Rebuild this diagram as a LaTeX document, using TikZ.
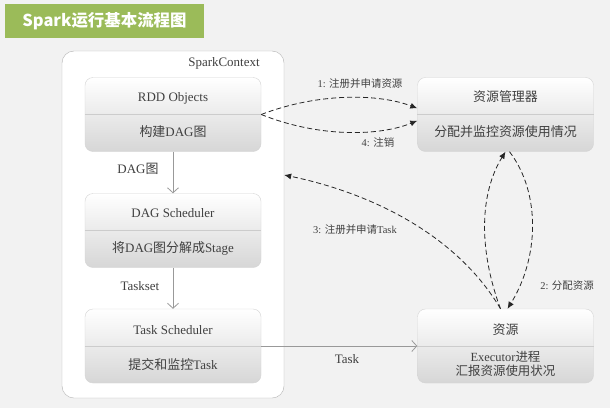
\documentclass[tikz,border=0pt]{standalone}
\usepackage{fontspec}
\setmainfont{Liberation Serif}
\newfontfamily\zhfont{Noto Sans CJK SC}
\newcommand\zh[1]{{\zhfont #1}}
\usetikzlibrary{arrows.meta}
\definecolor{bg}{HTML}{F2F2F2}
\definecolor{olive}{HTML}{9BBB59}
\definecolor{ink}{HTML}{404040}
\definecolor{edge}{HTML}{D4D4D4}
\tikzset{
  box/.style={draw=edge,rounded corners=8bp,minimum width=176bp,minimum height=74bp,top color=white,bottom color=black!16,inner sep=0pt},
  txt/.style={text=ink,font=\fontsize{13}{15}\selectfont,inner sep=1bp},
  lbl/.style={text=ink,font=\fontsize{10.5}{12}\selectfont,inner sep=1bp},
  flow/.style={draw=black!40,line width=0.8bp,-{Straight Barb[length=5bp,width=11bp]}},
  msg/.style={draw=black!85,dash pattern=on 5bp off 3bp,line width=0.8bp,-{Latex[length=7bp,width=6bp]}},
}
\begin{document}
\begin{tikzpicture}[>=latex,line join=bevel,x=1bp,y=1bp]
    \path[use as bounding box,fill=bg] (0,0) rectangle (610,408);
    %%
    \node (title) at (104.5,387) [fill=olive,minimum width=199bp,minimum height=34bp,text=white,font=\zhfont\bfseries\fontsize{16.5}{18}\selectfont] {Spark运行基本流程图};
    \node (sc) at (173,183.5) [draw=black!30,fill=white,rounded corners=12bp,minimum width=222bp,minimum height=347bp] {};
    \node (scname) at (224,345) [txt] {SparkContext};
    %
    \node (rdd) at (173,293.5) [box] {};
    \node (dag) at (173,177.5) [box] {};
    \node (task) at (173,62) [box] {};
    \node (rm) at (505.5,293.5) [box] {};
    \node (res) at (505.5,62) [box] {};
    \foreach \b in {rdd,dag,task,rm,res}
      \draw [black!20] (\b.west) -- (\b.east);
    %
    \node (rddA) at (173,310) [txt] {RDD Objects};
    \node (rddB) at (173,276) [txt] {\zh{构建}DAG\zh{图}};
    \node (dagA) at (173,195) [txt] {DAG Scheduler};
    \node (dagB) at (173,160) [txt] {\zh{将}DAG\zh{图分解成}Stage};
    \node (taskA) at (173,78) [txt] {Task Scheduler};
    \node (taskB) at (173,43) [txt] {\zh{提交和监控}Task};
    \node (rmA) at (505.5,311) [txt] {\zh{资源管理器}};
    \node (rmB) at (505.5,276) [txt] {\zh{分配并监控资源使用情况}};
    \node (resA) at (505.5,78) [txt] {\zh{资源}};
    \node (resB) at (505.5,44) [txt,align=center,font=\fontsize{12.5}{14.5}\selectfont] {Executor\zh{进程}\\\zh{汇报资源使用状况}};
    %
    \draw [flow] (rdd) -- (dag);
    \draw [flow] (dag) -- (task);
    \draw [flow] (task) -- (res);
    \node (fl1) at (138,239) [txt] {DAG\zh{图}};
    \node (fl2) at (140,122) [txt] {Taskset};
    \node (fl3) at (347,49) [txt] {Task};
    %
    \draw [msg] (rdd.east) ..controls (320,316) and (380,314) .. (rm.176);
    \draw [msg] (rdd.east) ..controls (320,270) and (380,272) .. (rm.184);
    \draw [msg] ([xshift=-5bp]res.north) ..controls (478,160) and (480,215) .. (rm.south);
    \draw [msg] ([xshift=4bp]rm.south) ..controls (541,215) and (539,150) .. ([xshift=2bp]res.north);
    \draw [msg] ([xshift=-5bp]res.north) ..controls (460,168) and (380,213) .. (sc.24);
    \node (m1) at (360,324) [lbl] {1: \zh{注册并申请资源}};
    \node (m4) at (378,265) [lbl] {4: \zh{注销}};
    \node (m3) at (355,178) [lbl] {3: \zh{注册并申请}Task};
    \node (m2) at (567,122) [lbl] {2: \zh{分配资源}};
    %
\end{tikzpicture}
\end{document}
